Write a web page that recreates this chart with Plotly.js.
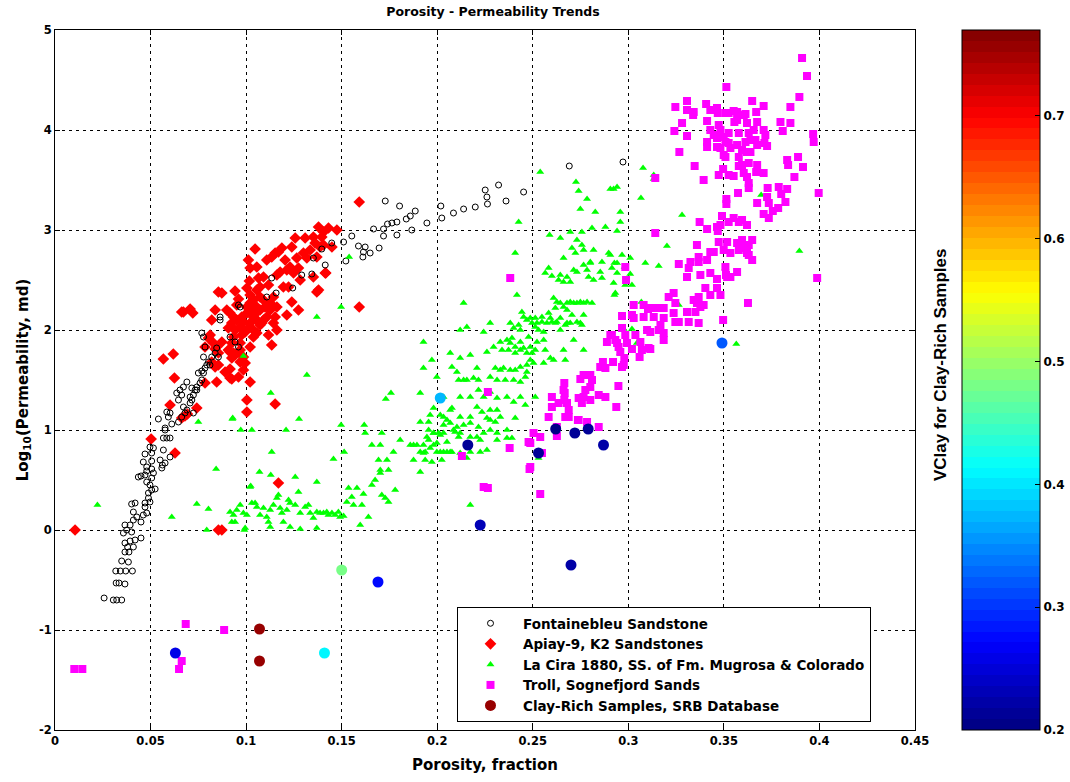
<!DOCTYPE html>
<html>
<head>
<meta charset="utf-8">
<script src="https://cdn.plot.ly/plotly-3.0.1.min.js"></script>
<style>html,body{margin:0;padding:0;background:#fff;}#chart{width:1070px;height:782px;}</style>
</head>
<body>
<div id="chart"></div>
<script>
// ---------------- DATA (porosity fraction, log10 permeability md) ----------------
const fontainebleu = [[.0257,-.68],[.0305,-.70],[.0323,-.70],[.0349,-.70],[.032,-.53],[.0335,-.53],[.0366,-.54],[.0318,-.41],[.0342,-.41],[.037,-.41],[.0405,-.41],[.0349,-.31],[.0384,-.32],[.0366,-.22],[.0387,-.22],[.041,-.17],[.0366,-.13],[.0393,-.11],[.0419,-.10],[.038,-.17],[.0358,-.03],[.0375,0],[.0401,-.02],[.0393,.05],[.0366,.05],[.045,-.08],[.041,.10],[.0428,.13],[.045,.08],[.0462,.15],[.048,.17],[.0471,.23],[.0401,.26],[.0419,.27],[.0471,.27],[.0497,.28],[.0489,.32],[.041,.18],[.0506,.40],[.0524,.41],[.0489,.37],[.0497,.45],[.048,.48],[.0436,.53],[.045,.54],[.0471,.55],[.0506,.52],[.0515,.57],[.0506,.61],[.048,.59],[.0462,.68],[.0506,.69],[.048,.63],[.055,.70],[.0562,.65],[.0576,.67],[.0559,.62],[.0602,.73],[.0567,.80],[.0506,.77],[.0515,.82],[.0497,.83],[.0471,.76],[.0567,.92],[.0585,.92],[.0602,.92],[.0576,1.0],[.0541,1.11],[.0593,1.13],[.0611,1.06],[.0602,1.17],[.0585,1.18],[.0646,1.08],[.0663,1.13],[.068,1.17],[.069,1.20],[.0672,1.23],[.0646,1.30],[.0663,1.35],[.069,1.48],[.0672,1.43],[.0654,1.40],[.0716,1.30],[.0707,1.27],[.0724,1.35],[.0733,1.40],[.0716,1.42],[.0742,1.43],[.0759,1.47],[.0768,1.50],[.0777,1.57],[.0785,1.62],[.0794,1.65],[.0768,1.59],[.0803,1.68],[.082,1.73],[.0838,1.77],[.0846,1.82],[.0855,1.73],[.0768,1.97],[.0777,1.93],[.0864,2.13],[.0864,2.10],[.0576,1.02],[.0637,1.37],[.0707,1.33],[.0742,1.40],[.0724,1.17],[.075,1.57],[.0811,1.65],[.0777,1.73],[.0785,1.83],[.0916,1.93],[.0942,1.88],[.096,1.83],[.096,2.25],[.0969,2.23],[.1108,2.33],[.1134,2.52],[.1157,2.37],[.1244,2.42],[.1291,2.55],[.1344,2.56],[.1352,2.72],[.1414,2.65],[.1396,2.81],[.1448,2.87],[.151,2.88],[.1522,2.69],[.1553,2.94],[.1588,2.84],[.1614,2.78],[.1649,2.77],[.1623,2.83],[.1611,2.73],[.1696,2.82],[.1667,3.01],[.1719,3.01],[.1719,2.94],[.174,3.06],[.1763,3.07],[.1789,3.08],[.1789,2.95],[.1838,3.11],[.1859,3.14],[.1885,3.19],[.1867,3.00],[.1946,3.07],[.1728,3.29],[.1803,3.24],[.2019,3.24],[.2024,3.12],[.2085,3.17],[.2138,3.21],[.2199,3.23],[.2263,3.26],[.226,3.33],[.2251,3.40],[.2321,3.45],[.236,3.29],[.2452,3.38],[.2691,3.64],[.2972,3.68]];

const apiay = [[.0105,0],[.0855,0],[.0873,0],[.0503,.91],[.0628,.77],[.0602,1.25],[.0663,1.12],[.068,1.14],[.0693,1.16],[.0742,1.22],[.0625,1.52],[.0567,1.71],[.0619,1.76],[.0672,2.18],[.0707,2.21],[.0721,2.17],[.0663,2.18],[.0785,1.47],[.0846,1.48],[.0925,1.51],[.082,1.68],[.0838,1.63],[.0855,1.65],[.0916,1.61],[.0907,1.80],[.0934,1.77],[.0925,1.72],[.0812,1.95],[.0829,1.87],[.0846,1.83],[.0873,1.88],[.0855,1.77],[.0838,1.81],[.0785,1.83],[.0803,1.92],[.082,2.10],[.0838,2.20],[.0855,2.38],[.0873,2.37],[.0942,2.39],[.096,2.31],[.0899,2.20],[.0916,2.17],[.0934,2.13],[.0951,2.10],[.0925,2.07],[.0907,2.02],[.0942,2.00],[.0969,2.03],[.0986,2.08],[.0977,2.13],[.1004,2.17],[.1021,2.20],[.1004,2.23],[.1021,2.27],[.1038,2.30],[.1056,2.23],[.1073,2.20],[.1038,2.13],[.1056,2.10],[.1021,2.07],[.0995,1.98],[.1012,2.02],[.1038,2.00],[.1056,1.97],[.1073,2.05],[.1091,2.10],[.1108,2.13],[.1126,2.20],[.1099,2.23],[.1126,2.27],[.1091,2.30],[.1073,2.33],[.1143,2.33],[.1161,2.23],[.1152,2.13],[.1161,2.00],[.1134,1.85],[.1021,1.83],[.1038,1.93],[.0969,1.87],[.0925,1.87],[.0916,1.78],[.0942,1.75],[.0969,1.80],[.0986,1.73],[.0969,1.68],[.0995,1.67],[.0986,1.60],[.096,1.53],[.0916,1.52],[.089,1.58],[.1021,1.48],[.1004,1.30],[.1004,1.18],[.1152,1.26],[.1169,.47],[.1012,2.70],[.1021,2.62],[.1017,2.49],[.1047,2.81],[.1056,2.63],[.1065,2.52],[.1073,2.43],[.1108,2.70],[.1134,2.73],[.1152,2.77],[.1169,2.78],[.1187,2.82],[.1204,2.70],[.1213,2.60],[.123,2.63],[.1239,2.83],[.1257,2.92],[.1265,2.72],[.1274,2.62],[.1248,2.57],[.1283,2.50],[.13,2.77],[.1309,2.92],[.1318,2.72],[.1335,2.80],[.1352,2.93],[.1361,2.87],[.137,2.73],[.1379,3.03],[.1396,2.93],[.1405,2.85],[.1431,3.02],[.1449,2.83],[.1475,3.00],[.1379,2.40],[.1352,2.53],[.1414,2.57],[.1239,2.28],[.1274,2.20],[.1213,2.15],[.1195,2.43],[.1222,2.43],[.1004,2.42],[.1021,2.35],[.1056,2.40],[.1117,2.45],[.1091,2.53],[.1161,2.55],[.1178,2.58],[.1592,2.23],[.1592,3.28],[.1405,2.98],[.1387,2.83],[.1417,2.57],[.137,2.38],[.0977,1.95],[.1047,2.16],[.1082,2.07],[.0951,2.25],[.0934,1.93],[.1143,2.07],[.1117,1.95]];

const laCira = [[.0222,.25],[.0742,.26],[.0803,.21],[.0611,.13],[.0794,0],[.075,1.08],[.093,1.12],[.0843,.61],[.1024,.44],[.0986,1.74],[.0991,0],[.1539,2.73],[.1497,2.23],[.137,2.13],[.1318,1.55],[.1129,1.37],[.0928,1.11],[.0972,1.00],[.103,1.00],[.1209,1.00],[.1277,1.11],[.1497,1.05],[.1618,1.05],[.1758,1.37],[.1731,1.31],[.1911,1.37],[.1134,.78],[.107,.58],[.1129,.55],[.1257,.53],[.1021,.43],[.137,.48],[.1457,.71],[.1513,.78],[.0916,.18],[.0934,.15],[.0951,.20],[.0969,.25],[.0986,.17],[.1004,.15],[.103,.27],[.1047,.27],[.1056,.23],[.1073,.15],[.1091,.22],[.1108,.13],[.1126,.20],[.1143,.25],[.1161,.32],[.1169,.35],[.1178,.22],[.1187,.17],[.1213,.20],[.1222,.30],[.123,.27],[.1257,.25],[.1274,.38],[.1283,.17],[.1309,.23],[.1326,.25],[.1335,.17],[.1352,.12],[.137,.18],[.1387,.17],[.1405,.17],[.1422,.18],[.1431,.15],[.1449,.17],[.1466,.15],[.1483,.18],[.1492,.13],[.151,.14],[.1527,.28],[.1536,.42],[.1553,.33],[.1562,.25],[.158,.42],[.1606,.25],[.1614,.36],[.164,.13],[.1658,.45],[.1675,.50],[.1702,.60],[.171,.35],[.1728,.32],[.1745,.28],[.178,.40],[.1597,.05],[.137,.02],[.1283,.01],[.123,.03],[.1195,.08],[.1126,.03],[.1117,.08],[.0995,.02],[.0925,.08],[.0942,.08],[.1623,.97],[.1658,.85],[.1702,.85],[.171,.97],[.1737,.70],[.1745,.60],[.1693,.70],[.1702,.57],[.1771,.78],[.1806,.90],[.1859,.85],[.1876,.85],[.1894,.85],[.1911,.78],[.1937,.78],[.1876,.70],[.1911,.58],[.1937,.70],[.1955,.90],[.1981,.85],[.1998,.78],[.2033,.78],[.2051,.78],[.2077,.78],[.1911,1.08],[.1955,1.08],[.1963,1.15],[.2016,1.15],[.2033,1.05],[.2051,1.10],[.2068,1.20],[.2094,.98],[.2112,.93],[.1981,.97],[.2007,.97],[.2033,.97],[.1955,1.00],[.2539,3.58],[.2726,3.48],[.274,3.39],[.2784,3.31],[.2749,3.21],[.2827,3.18],[.2906,3.41],[.2923,3.41],[.2941,3.43],[.2958,3.18],[.2958,3.08],[.3077,3.62],[.3066,3.32],[.2426,3.08],[.2408,2.77],[.2588,2.95],[.2644,2.92],[.2696,2.98],[.2731,2.90],[.2757,2.98],[.281,3.02],[.288,3.03],[.2941,2.99],[.2661,2.72],[.2705,2.82],[.2723,2.77],[.2766,2.80],[.2757,2.85],[.2818,2.80],[.2801,2.68],[.2862,2.68],[.2906,2.75],[.2897,2.77],[.2967,2.75],[.2941,2.67],[.2914,2.62],[.2583,2.62],[.2565,2.57],[.26,2.54],[.2644,2.55],[.2679,2.53],[.2714,2.60],[.2731,2.58],[.2766,2.65],[.2784,2.60],[.2801,2.67],[.2792,2.53],[.2661,2.48],[.2635,2.50],[.2696,2.48],[.2862,2.52],[.2853,2.58],[.2818,2.50],[.2923,2.47],[.2932,2.37],[.3019,2.45],[.2417,2.35],[.2138,2.27],[.2609,2.32],[.2626,2.28],[.2644,2.27],[.2679,2.27],[.2696,2.28],[.2714,2.27],[.2731,2.27],[.2749,2.28],[.2766,2.27],[.2784,2.28],[.281,2.27],[.2766,2.15],[.2705,2.15],[.2679,2.20],[.2661,2.23],[.2618,2.22],[.2583,2.17],[.2548,2.13],[.2513,2.12],[.2487,2.12],[.2522,2.07],[.2548,2.08],[.2574,2.07],[.26,2.08],[.2626,2.08],[.2644,2.12],[.2679,2.07],[.2696,2.07],[.2731,2.08],[.2749,2.07],[.2757,2.05],[.267,2.05],[.2644,2.00],[.2618,2.07],[.2592,2.12],[.2443,2.18],[.2452,2.13],[.2382,2.07],[.24,2.02],[.2426,2.05],[.2469,2.10],[.2496,2.07],[.2513,2.03],[.253,2.00],[.2557,1.98],[.2277,2.07],[.2155,2.03],[.2243,1.98],[.2435,2.00],[.233,1.88],[.2365,1.90],[.2391,1.92],[.2382,1.87],[.2408,1.83],[.2435,1.88],[.2452,1.82],[.2478,1.93],[.2487,1.83],[.2496,1.77],[.2522,1.88],[.2513,1.80],[.2557,1.90],[.2565,1.80],[.2592,1.72],[.2609,1.70],[.2661,1.80],[.267,1.70],[.2766,1.80],[.2714,1.90],[.2295,1.83],[.2339,1.80],[.2373,1.80],[.2408,1.77],[.2435,1.80],[.2469,1.77],[.2487,1.70],[.2469,1.65],[.2435,1.63],[.2408,1.60],[.2382,1.60],[.2347,1.62],[.233,1.60],[.2304,1.62],[.2277,1.53],[.2313,1.50],[.2356,1.50],[.24,1.50],[.2435,1.48],[.2461,1.53],[.2469,1.58],[.2504,1.67],[.2557,1.67],[.1972,1.70],[.2068,1.77],[.212,1.72],[.2173,1.75],[.226,1.78],[.2077,1.63],[.2103,1.58],[.2138,1.50],[.219,1.52],[.2216,1.50],[.2208,1.62],[.2112,1.50],[.2155,1.50],[.1998,1.53],[.1928,1.62],[.1928,1.88],[.212,1.33],[.2173,1.33],[.2216,1.40],[.2243,1.33],[.2277,1.38],[.2313,1.32],[.2365,1.33],[.24,1.28],[.2435,1.33],[.2461,1.25],[.2513,1.33],[.2208,1.23],[.2234,1.18],[.2277,1.20],[.2313,1.20],[.233,1.13],[.226,1.12],[.2173,1.13],[.212,1.13],[.2077,1.22],[.2033,1.33],[.1981,1.22],[.2033,1.13],[.2068,1.07],[.2103,1.03],[.2138,1.05],[.2173,1.07],[.2216,1.03],[.2277,1.10],[.2304,1.08],[.2408,1.12],[.2365,1.00],[.2313,.97],[.2277,1.00],[.2243,.97],[.2208,.93],[.2173,.93],[.212,.97],[.2085,1.00],[.2016,.95],[.1981,.97],[.1946,.93],[.1998,.87],[.2051,.88],[.1963,.82],[.2016,.78],[.2068,.78],[.212,.77],[.2173,.78],[.2225,.78],[.1928,.85],[.1928,.77],[.2024,.70],[.1972,.68],[.2225,.90],[.2313,.90],[.2365,.92],[.226,.80],[.3133,3.51],[.3281,3.15],[.3202,2.84],[.3159,2.64],[.3089,2.67],[.3068,2.28],[.301,2.56],[.2981,2.63],[.3019,2.01],[.2976,2.01],[.212,2.00],[.2173,.25],[.2155,.72],[.2391,.92],[.253,.72],[.2801,1.42],[.3133,3.55],[.301,2.72],[.2927,2.67],[.2941,2.57],[.2984,2.45],[.2927,2.35],[.3264,2.25],[.3508,2.62],[.3695,3.35],[.3895,2.79],[.3565,1.86],[.3045,1.87],[.2958,1.77],[.3255,2.26]];

const troll = [[.0101,-1.39],[.0143,-1.39],[.0684,-.94],[.0663,-1.31],[.0649,-1.39],[.0885,-1.00],[.2382,2.52],[.2129,.74],[.2243,.43],[.2265,.42],[.2539,.36],[.2483,.61],[.2487,.63],[.2379,.82],[.2265,1.38],[.2478,.88],[.2548,.77],[.2626,.94],[.2984,2.63],[.2988,2.50],[.3028,2.25],[.2967,2.14],[.3028,2.12],[.3103,2.21],[.3063,1.88],[.3019,1.81],[.3059,1.73],[.3115,1.81],[.2967,2.02],[.2914,1.95],[.2888,1.88],[.2941,1.87],[.2949,1.83],[.2958,1.78],[.2979,1.72],[.2967,1.63],[.292,1.68],[.2867,1.68],[.288,1.62],[.2853,1.63],[.2948,1.44],[.2937,1.23],[.2749,1.51],[.2766,1.55],[.2801,1.55],[.281,1.50],[.2801,1.43],[.2775,1.40],[.2766,1.33],[.2801,1.30],[.2845,1.35],[.288,1.33],[.2757,1.27],[.274,1.32],[.274,1.10],[.2784,1.08],[.2688,1.13],[.2679,1.27],[.2667,1.37],[.2665,1.47],[.2661,1.40],[.2665,1.30],[.2635,1.27],[.26,1.33],[.26,1.23],[.2583,1.13],[.2688,1.20],[.267,1.13],[.2626,1.03],[.2539,.93],[.2504,.97],[.2487,.87],[.2736,1.10],[.2845,1.03],[.3373,3.08],[.3412,3.01],[.3464,3.03],[.3482,3.05],[.3525,3.08],[.3551,3.12],[.3578,3.08],[.3595,3.10],[.3621,3.05],[.349,3.14],[.3468,2.99],[.3359,2.85],[.3473,2.88],[.3517,2.88],[.3499,2.80],[.3534,2.77],[.3569,2.87],[.3578,2.80],[.3595,2.90],[.3604,2.82],[.363,2.85],[.3648,2.90],[.3621,2.77],[.363,2.75],[.3648,2.70],[.3429,2.78],[.3447,2.78],[.3412,2.70],[.3368,2.73],[.3368,2.68],[.3325,2.68],[.3316,2.62],[.3264,2.66],[.3307,2.53],[.3377,2.55],[.3429,2.57],[.3403,2.42],[.3429,2.35],[.3464,2.42],[.3482,2.35],[.3464,2.51],[.3517,2.53],[.3534,2.53],[.3569,2.58],[.3508,2.63],[.3511,2.55],[.3237,2.37],[.3211,2.33],[.3246,2.27],[.3185,2.22],[.315,2.22],[.3115,2.22],[.3133,2.13],[.3185,2.12],[.3237,2.17],[.3246,2.08],[.3264,2.08],[.3307,2.18],[.3316,2.08],[.3351,2.18],[.3359,2.27],[.3368,2.33],[.3342,2.30],[.3377,2.23],[.3394,2.25],[.3368,2.07],[.308,2.25],[.3019,2.15],[.308,2.13],[.3168,2.05],[.3098,2.00],[.3115,1.98],[.3159,2.00],[.3185,1.97],[.3185,1.90],[.3037,1.95],[.2984,1.95],[.2932,1.90],[.2906,1.95],[.2993,1.87],[.3071,1.80],[.3106,1.82],[.2976,1.65],[.3626,2.27],[.3496,2.10],[.3141,3.52],[.3141,2.97],[.3988,2.52],[.3909,4.72],[.3935,4.54],[.3895,4.33],[.3848,4.23],[.3848,4.07],[.3796,4.08],[.3808,3.99],[.3513,4.43],[.3307,4.29],[.3246,4.23],[.3307,4.20],[.3342,4.18],[.3339,4.15],[.3407,4.26],[.3429,4.20],[.3464,4.22],[.3468,4.17],[.3508,4.17],[.3525,4.17],[.3551,4.19],[.3569,4.18],[.3604,4.15],[.3613,4.16],[.3648,4.29],[.3669,4.18],[.3708,4.24],[.3674,4.08],[.3621,4.07],[.3569,4.10],[.3555,4.08],[.3412,4.09],[.3473,4.05],[.3281,4.07],[.3241,3.99],[.3307,3.94],[.3429,4.00],[.3482,4.00],[.3525,3.97],[.3578,3.97],[.363,3.97],[.3656,4.00],[.3708,4.00],[.3717,3.95],[.3447,3.95],[.3464,3.92],[.3499,3.93],[.3508,3.88],[.3412,3.88],[.3412,3.83],[.3464,3.83],[.3482,3.82],[.3525,3.87],[.3569,3.85],[.3534,3.82],[.3613,3.88],[.3639,3.90],[.3665,3.90],[.3674,3.85],[.3712,3.87],[.3726,3.84],[.3595,3.80],[.3621,3.78],[.3639,3.78],[.3499,3.75],[.3508,3.73],[.3578,3.73],[.3267,3.78],[.3347,3.64],[.3394,3.50],[.3473,3.55],[.3496,3.61],[.3525,3.55],[.3551,3.54],[.3578,3.64],[.3595,3.65],[.363,3.67],[.3674,3.65],[.3708,3.57],[.3669,3.58],[.3604,3.57],[.3621,3.53],[.363,3.47],[.363,3.42],[.3574,3.37],[.3513,3.31],[.3513,3.26],[.3674,3.27],[.3729,3.42],[.3726,3.33],[.3735,3.27],[.3787,3.43],[.38,3.36],[.3831,3.41],[.3822,3.28],[.3784,3.22],[.3756,3.19],[.3735,3.12],[.3708,3.16],[.3831,3.70],[.3836,3.65],[.3888,3.73],[.3914,3.63],[.3869,3.53],[.3967,3.96],[.397,3.88],[.3996,3.37]];

const clayPorosity = [.107, .107, .063, .141, .150, .169, .2016, .216, .2225, .253, .262, .272, .279, .287, .270, .349];
const clayLogPerm  = [-0.99, -1.31, -1.23, -1.23, -0.40, -0.52, 1.32, 0.85, 0.05, 0.77, 1.01, 0.97, 1.01, 0.85, -0.35, 1.87];
const clayVClay    = [0.76, 0.76, 0.26, 0.41, 0.485, 0.28, 0.37, 0.21, 0.23, 0.21, 0.20, 0.21, 0.21, 0.22, 0.22, 0.32];

const seriesNames = ["Fontainebleu Sandstone", "Apiay-9, K2 Sandstones", "La Cira 1880, SS. of Fm. Mugrosa & Colorado", "Troll, Sognefjord Sands", "Clay-Rich Samples, SRB Database"];
const xTickVals = [0, 0.05, 0.1, 0.15, 0.2, 0.25, 0.3, 0.35, 0.4, 0.45];
const yTickVals = [-2, -1, 0, 1, 2, 3, 4, 5];
const yTickText = ["-2", "-1", "0", "1", "2", "3", "4", "5"];
const cbTickVals = [0.2, 0.3, 0.4, 0.5, 0.6, 0.7];

// ---------------- STYLE ----------------
function jetScale(n) {
  const cl = v => Math.max(0, Math.min(1, v));
  const out = [];
  for (let i = 0; i < n; i++) {
    const t = (i + 0.5) / n;
    const r = Math.round(255 * cl(1.5 - Math.abs(4 * t - 3)));
    const g = Math.round(255 * cl(1.5 - Math.abs(4 * t - 2)));
    const b = Math.round(255 * cl(1.5 - Math.abs(4 * t - 1)));
    const c = `rgb(${r},${g},${b})`;
    out.push([i / n, c]);
    out.push([(i + 1) / n, c]);
  }
  return out;
}
const FONT = "'DejaVu Sans', Verdana, sans-serif";
const col = (arr, k) => arr.map(p => p[k]);

const traces = [
  { type: 'scatter', mode: 'markers', name: seriesNames[1], legendrank: 2,
    x: col(apiay, 0), y: col(apiay, 1),
    marker: { symbol: 'diamond', size: 9, color: '#ff0000', line: { width: 0 } } },
  { type: 'scatter', mode: 'markers', name: seriesNames[0], legendrank: 1,
    x: col(fontainebleu, 0), y: col(fontainebleu, 1),
    marker: { symbol: 'circle-open', size: 6, color: '#000000', line: { width: 1, color: '#000' } } },
  { type: 'scatter', mode: 'markers', name: seriesNames[2], legendrank: 3,
    x: col(laCira, 0), y: col(laCira, 1),
    marker: { symbol: 'triangle-up', size: 7, color: '#00ff00', line: { width: 0 } } },
  { type: 'scatter', mode: 'markers', name: seriesNames[3], legendrank: 4,
    x: col(troll, 0), y: col(troll, 1),
    marker: { symbol: 'square', size: 8, color: '#ff00ff', line: { width: 0 } } },
  { type: 'scatter', mode: 'markers', name: seriesNames[4], legendrank: 5,
    x: clayPorosity, y: clayLogPerm,
    marker: { symbol: 'circle', size: 11, color: clayVClay, cmin: 0.2, cmax: 0.77,
      colorscale: jetScale(64), showscale: true, line: { width: 0 },
      colorbar: { x: (962 - 55) / 860, xanchor: 'left', y: 0.5, yanchor: 'middle', len: 1, lenmode: 'fraction',
        thickness: 78, thicknessmode: 'pixels', xpad: 0, ypad: 0,
        outlinecolor: '#000', outlinewidth: 1,
        tickvals: cbTickVals, ticks: 'inside', ticklen: 5, tickcolor: '#000',
        tickfont: { family: FONT, size: 12, color: '#000', weight: 'bold' } } } }
];

const axisCommon = {
  showline: true, linecolor: '#000', linewidth: 1, mirror: 'ticks',
  ticks: 'inside', ticklen: 5, tickcolor: '#000',
  showgrid: true, gridcolor: '#000', gridwidth: 1, griddash: '3px,4px',
  zeroline: false,
  tickfont: { family: FONT, size: 11.5, color: '#000', weight: 'bold' }
};

const layout = {
  width: 1070, height: 782,
  paper_bgcolor: '#fff', plot_bgcolor: '#fff',
  margin: { l: 55, r: 155, t: 30, b: 52, autoexpand: false },
  font: { family: FONT, color: '#000' },
  title: { text: 'Porosity - Permeability Trends', x: (493 - 55) / 860, xref: 'paper', xanchor: 'center',
    y: 1 - 12 / 782, yref: 'container', yanchor: 'middle',
    font: { family: FONT, size: 12.5, color: '#000', weight: 'bold' } },
  xaxis: Object.assign({}, axisCommon, {
    range: [0, 0.45], tickvals: xTickVals,
    title: { text: 'Porosity, fraction', standoff: 12, font: { family: FONT, size: 15, color: '#000', weight: 'bold' } }
  }),
  yaxis: Object.assign({}, axisCommon, {
    range: [-2, 5], tickvals: yTickVals, ticktext: yTickText,
    title: { text: 'Log<sub>10</sub>(Permeability, md)', standoff: 6, font: { family: FONT, size: 15, color: '#000', weight: 'bold' } }
  }),
  showlegend: true,
  legend: { x: (457 - 55) / 860, xanchor: 'left', y: (730 - 607) / 700, yanchor: 'top',
    bgcolor: '#fff', bordercolor: '#000', borderwidth: 1,
    traceorder: 'normal', tracegroupgap: 0, itemwidth: 55,
    font: { family: FONT, size: 13.5, color: '#000', weight: 'bold' } },
  annotations: [{ text: 'VClay for Clay-Rich Samples', textangle: -90,
    xref: 'paper', yref: 'paper', x: (940 - 55) / 860, y: (730 - 365) / 700, xanchor: 'center', yanchor: 'middle',
    showarrow: false, font: { family: "'Liberation Sans Narrow', 'Liberation Sans', Arial, sans-serif", size: 17, color: '#000', weight: 'bold' } }]
};

Plotly.newPlot('chart', traces, layout, { displayModeBar: false, staticPlot: true });
</script>
</body>
</html>
